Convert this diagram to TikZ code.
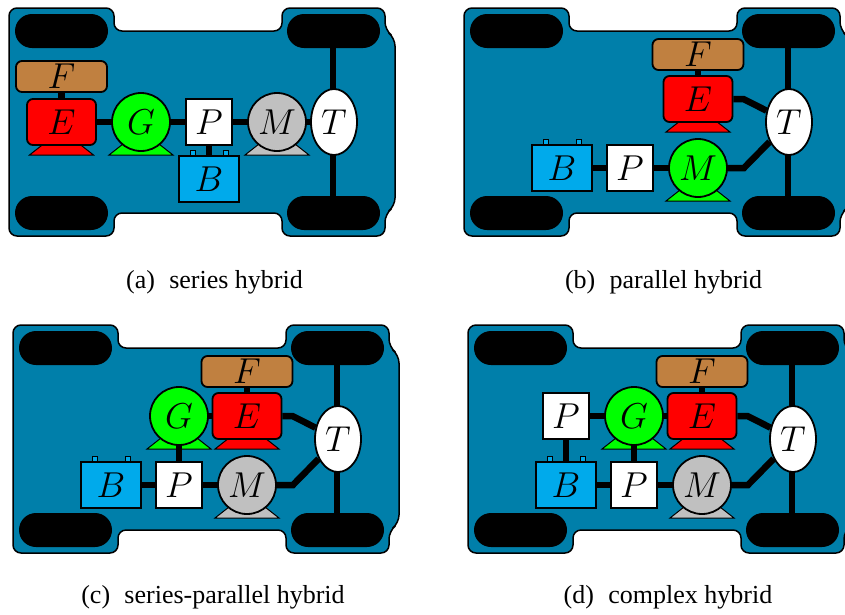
\documentclass[tikz,border=0pt]{standalone}
\usepackage{fontspec}
\newfontfamily\capfont{Liberation Serif}
% math italic at any size
\DeclareFontShape{OML}{cmm}{m}{it}{<->cmmi12}{}
\usetikzlibrary{shapes.geometric}

\definecolor{chassisblue}{RGB}{0,127,170}
\definecolor{fuelbrown}{RGB}{192,128,64}
\definecolor{engred}{RGB}{255,0,0}
\definecolor{gengreen}{RGB}{0,255,0}
\definecolor{motorgray}{RGB}{192,192,192}
\definecolor{battblue}{RGB}{0,170,235}

% chassis at the bottom, feet and shafts in between, parts on top
\pgfdeclarelayer{chassis}
\pgfdeclarelayer{feet}
\pgfsetlayers{chassis,feet,main}

\tikzset{
  part/.style={
    draw,
    line width=1.8pt,
    inner sep=0pt,
    font=\fontsize{36}{40}\selectfont
  },
  fuel tank/.style={part, rounded corners=6pt, fill=fuelbrown, minimum width=91pt, minimum height=31pt},
  engine/.style={part, rounded corners=6pt, fill=engred, minimum width=69pt, minimum height=46pt},
  machine/.style={part, circle, minimum size=58pt},
  converter/.style={part, fill=white, minimum size=46pt},
  battery/.style={part, fill=battblue, minimum width=60pt, minimum height=46pt},
  gearbox/.style={part, ellipse, fill=white, minimum width=46pt, minimum height=66pt},
  shaft/.style={line width=6.5pt},
  foot/.style={draw, line width=1pt},
  caption/.style={font=\capfont\fontsize{26}{30}\selectfont, anchor=base}
}

% car body with four wheels and the rear axle
\newcommand{\drawcar}{%
  \begin{pgfonlayer}{chassis}
    \filldraw[fill=chassisblue, line width=1.5pt, rounded corners=8pt]
      (0,0) -- (105,0) -- (105,23) -- (273,23) -- (273,0) -- (376,0) -- (376,22)
      -- (386,30) -- (386,198) -- (376,206) -- (376,228) -- (273,228) -- (273,205)
      -- (105,205) -- (105,228) -- (0,228) -- cycle;
    \foreach \x in {6,278}
      \foreach \y in {6,188}
        \fill[rounded corners=17pt] (\x,\y) rectangle ++(93,34);
    \draw[shaft] (324,40) -- (324,188);
  \end{pgfonlayer}}

% stand under an engine or an electric machine
\newcommand{\foot}[2]{%
  \begin{pgfonlayer}{feet}
    \filldraw[foot, fill=#2] ([shift={(-18,22)}]#1.center) -- ([shift={(18,22)}]#1.center)
      -- ([shift={(32,33)}]#1.center) -- ([shift={(-32,33)}]#1.center) -- cycle;
  \end{pgfonlayer}}

% battery poles
\newcommand{\terminals}[1]{%
  \begin{pgfonlayer}{feet}
    \filldraw[foot, fill=battblue] ([shift={(-19,-5)}]#1.north) rectangle ++(5,5)
      ([shift={(14,-5)}]#1.north) rectangle ++(5,5);
  \end{pgfonlayer}}

\begin{document}
\begin{tikzpicture}[x=1pt, y=-1pt]
  \useasboundingbox (0,0) rectangle (845,614);

  % (a) series
  \begin{scope}[shift={(9,8)}]
    \drawcar
    \node[fuel tank] (F) at (52.5,68.5) {$F$};
    \node[engine] (E) at (52.5,114) {$E$};
    \node[machine, fill=gengreen] (G) at (132,114) {$G$};
    \node[converter] (P) at (200,114) {$P$};
    \node[battery] (B) at (200,171) {$B$};
    \node[machine, fill=motorgray] (M) at (268,114) {$M$};
    \node[gearbox] (T) at (325,114) {$T$};
    \foot{E}{engred}
    \foot{G}{gengreen}
    \foot{M}{motorgray}
    \terminals{B}
    \begin{pgfonlayer}{feet}
      \draw[shaft] (F) -- (E) (E) -- (G) (G) -- (P) (P) -- (M) (M) -- (T) (P) -- (B);
    \end{pgfonlayer}
  \end{scope}

  % (b) parallel
  \begin{scope}[shift={(464,8)}]
    \drawcar
    \node[fuel tank] (F) at (234,46.5) {$F$};
    \node[engine] (E) at (234,91) {$E$};
    \node[battery] (B) at (98,160) {$B$};
    \node[converter] (P) at (166,160) {$P$};
    \node[machine, fill=gengreen] (M) at (234,160) {$M$};
    \node[gearbox] (T) at (325,114) {$T$};
    \foot{E}{engred}
    \foot{M}{gengreen}
    \terminals{B}
    \begin{pgfonlayer}{feet}
      \draw[shaft] (F) -- (E) (B) -- (P) (P) -- (M);
      \draw[shaft] (E.east) -- ++(10,0) -- (T);
      \draw[shaft] (M.east) -- ++(16,0) -- (T);
    \end{pgfonlayer}
  \end{scope}

  % (c) series-parallel
  \begin{scope}[shift={(13,325)}]
    \drawcar
    \node[fuel tank] (F) at (234,46.5) {$F$};
    \node[engine] (E) at (234,91) {$E$};
    \node[machine, fill=gengreen] (G) at (166,91) {$G$};
    \node[battery] (B) at (98,160) {$B$};
    \node[converter] (P) at (166,160) {$P$};
    \node[machine, fill=motorgray] (M) at (234,160) {$M$};
    \node[gearbox] (T) at (325,114) {$T$};
    \foot{G}{gengreen}
    \foot{E}{engred}
    \foot{M}{motorgray}
    \terminals{B}
    \begin{pgfonlayer}{feet}
      \draw[shaft] (F) -- (E) (G) -- (E) (G) -- (P) (B) -- (P) (P) -- (M);
      \draw[shaft] (E.east) -- ++(10,0) -- (T);
      \draw[shaft] (M.east) -- ++(16,0) -- (T);
    \end{pgfonlayer}
  \end{scope}

  % (d) complex
  \begin{scope}[shift={(468,325)}]
    \drawcar
    \node[fuel tank] (F) at (234,46.5) {$F$};
    \node[engine] (E) at (234,91) {$E$};
    \node[machine, fill=gengreen] (G) at (166,91) {$G$};
    \node[converter] (P1) at (98,91) {$P$};
    \node[battery] (B) at (98,160) {$B$};
    \node[converter] (P2) at (166,160) {$P$};
    \node[machine, fill=motorgray] (M) at (234,160) {$M$};
    \node[gearbox] (T) at (325,114) {$T$};
    \foot{G}{gengreen}
    \foot{E}{engred}
    \foot{M}{motorgray}
    \terminals{B}
    \begin{pgfonlayer}{feet}
      \draw[shaft] (F) -- (E) (P1) -- (G) (G) -- (E) (P1) -- (B) (G) -- (P2)
        (B) -- (P2) (P2) -- (M);
      \draw[shaft] (E.east) -- ++(10,0) -- (T);
      \draw[shaft] (M.east) -- ++(16,0) -- (T);
    \end{pgfonlayer}
  \end{scope}

  % captions
  \node[caption] (capA) at (214.5,288) {(a)\hspace{0.3em} series hybrid};
  \node[caption] (capB) at (663.5,288) {(b)\hspace{0.3em} parallel hybrid};
  \node[caption] (capC) at (213,603) {(c)\hspace{0.3em} series-parallel hybrid};
  \node[caption] (capD) at (668,603) {(d)\hspace{0.3em} complex hybrid};
\end{tikzpicture}
\end{document}
